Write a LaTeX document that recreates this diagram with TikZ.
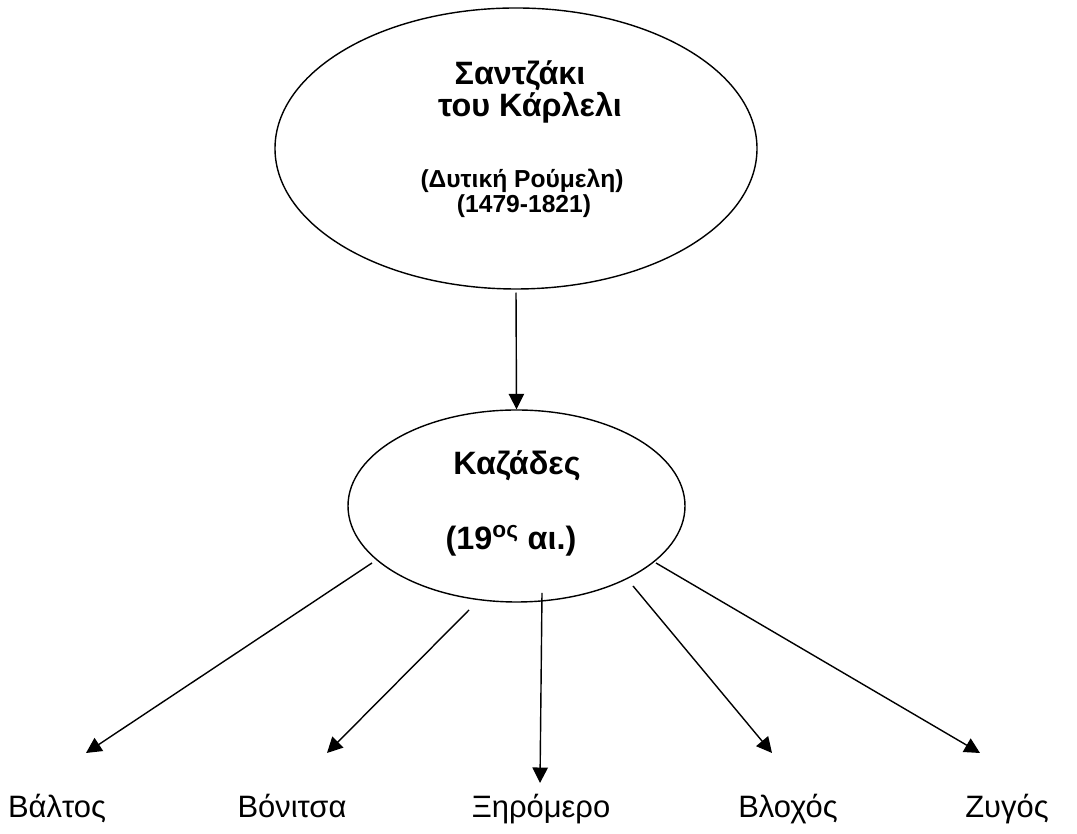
\documentclass[tikz,border=0pt]{standalone}
\usepackage{fontspec}
\setmainfont{Liberation Sans}
\usetikzlibrary{arrows.meta,shapes.geometric}

\tikzset{
    oval/.style={draw,ellipse,line width=1pt,inner sep=0pt},
    bigtitle/.style={font=\fontsize{23}{27}\selectfont\bfseries,anchor=base,inner sep=0pt},
    smalltitle/.style={font=\fontsize{17.5}{20}\selectfont\bfseries,anchor=base,inner sep=0pt},
    place/.style={font=\fontsize{22}{26}\selectfont,anchor=base,inner sep=0pt}
}

\begin{document}
\begin{tikzpicture}
            \useasboundingbox (0,0) rectangle (26.925,20.85);
            \node[oval,minimum width=12.05cm,minimum height=7.025cm] (santzaki) at (12.9,17.1375) {};
            \node[oval,minimum width=8.425cm,minimum height=4.8cm] (kazades) at (12.9125,8.2) {};
            \node[bigtitle] (name1) at (13.0,18.725) {Σαντζάκι};
            \node[bigtitle] (name2) at (13.25,17.925) {του Κάρλελι};
            \node[smalltitle] (region) at (13.05,16.15) {(Δυτική Ρούμελη)};
            \node[smalltitle] (years) at (13.1,15.525) {(1479-1821)};
            \node[bigtitle] (kaz) at (12.925,8.975) {Καζάδες};
            \node[bigtitle] (cent) at (12.775,7.1) {(19\textsuperscript{ος} αι.)};
            \node[place] (valtos) at (1.425,0.4) {Βάλτος};
            \node[place] (vonitsa) at (7.3,0.4) {Βόνιτσα};
            \node[place] (xiromero) at (13.525,0.4) {Ξηρόμερο};
            \node[place] (vlochos) at (19.7,0.4) {Βλοχός};
            \node[place] (zygos) at (25.175,0.4) {Ζυγός};
            \coordinate (S1) at (9.3,6.775);
            \coordinate (S2) at (11.725,5.6);
            \coordinate (S3) at (13.55,6.025);
            \coordinate (S4) at (15.825,6.2);
            \coordinate (S5) at (16.4,6.775);
            \coordinate (E1) at (2.15,2.025);
            \coordinate (E2) at (8.175,2.025);
            \coordinate (E3) at (13.5,1.275);
            \coordinate (E4) at (19.3,2.025);
            \coordinate (E5) at (24.5,2.025);
            \begin{scope}[->,>={Triangle[length=11pt,width=11pt]},line width=1pt]
                \draw[shorten <=2pt] (santzaki.south) -- (kazades.north);
                \draw (S1) -- (E1);
                \draw (S2) -- (E2);
                \draw (S3) -- (E3);
                \draw (S4) -- (E4);
                \draw (S5) -- (E5);
            \end{scope}
        \end{tikzpicture}
\end{document}
